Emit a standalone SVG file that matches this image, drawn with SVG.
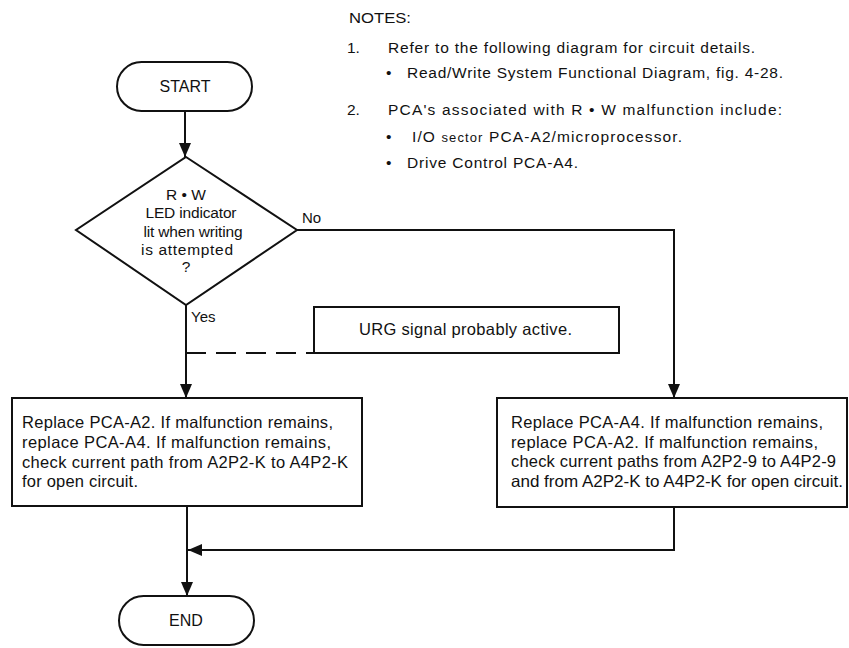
<svg xmlns="http://www.w3.org/2000/svg" width="849" height="648" viewBox="0 0 849 648">
<style>
  text { font-family: "Liberation Sans", Arial, sans-serif; fill: #111; }
  .box { fill: #fff; stroke: #111; stroke-width: 2; }
  .ln { fill: none; stroke: #111; stroke-width: 2; }
  .dash { fill: none; stroke: #111; stroke-width: 2; stroke-dasharray: 20 10; }
  .note { font-size: 15.5px; }
  .bt { font-size: 16.5px; }
  .dt { font-size: 15.5px; text-anchor: middle; }
  .term { font-size: 16px; text-anchor: middle; }
  .lbl { font-size: 15px; }
</style>
<defs>
  <marker id="arr" markerUnits="userSpaceOnUse" markerWidth="14" markerHeight="14" viewBox="0 0 14 14" refX="14" refY="7" orient="auto">
    <path d="M0,1 L14,7 L0,13 Z" fill="#111"/>
  </marker>
</defs>
<rect width="849" height="648" fill="#fff"/>

<g id="notes">
  <text class="note" x="349" y="23" textLength="62" lengthAdjust="spacingAndGlyphs">NOTES:</text>
  <text class="note" x="347" y="53">1.</text>
  <text class="note" x="388" y="53" textLength="367" lengthAdjust="spacing">Refer to the following diagram for circuit details.</text>
  <text class="note" x="386" y="78">•</text>
  <text class="note" x="407" y="78" textLength="376" lengthAdjust="spacing">Read/Write System Functional Diagram, fig. 4-28.</text>
  <text class="note" x="347" y="115">2.</text>
  <text class="note" x="388" y="115" textLength="394" lengthAdjust="spacing">PCA's associated with R • W malfunction include:</text>
  <text class="note" x="386" y="142">•</text>
  <text class="note" x="412" y="142" textLength="270" lengthAdjust="spacing">I/O <tspan font-size="13px">sector</tspan> PCA-A2/microprocessor.</text>
  <text class="note" x="386" y="168">•</text>
  <text class="note" x="407" y="168" textLength="171" lengthAdjust="spacing">Drive Control PCA-A4.</text>
</g>

<g id="start">
  <rect class="box" x="117" y="62" width="135" height="49" rx="24.5" ry="24.5"/>
  <text class="term" x="185" y="92">START</text>
</g>

<g id="decision">
  <polygon class="box" points="186,157 297,230 186,305 76,230"/>
  <text class="dt" x="186" y="200">R • W</text>
  <text class="dt" x="191" y="218" textLength="91" lengthAdjust="spacing">LED indicator</text>
  <text class="dt" x="193" y="237" textLength="99" lengthAdjust="spacing">lit when writing</text>
  <text class="dt" x="187" y="255" textLength="92" lengthAdjust="spacing">is attempted</text>
  <text class="dt" x="186" y="272">?</text>
</g>

<g id="urg">
  <rect class="box" x="314" y="307" width="305" height="46"/>
  <text class="bt" x="359" y="335" textLength="213" lengthAdjust="spacing">URG signal probably active.</text>
</g>

<g id="left-box">
  <rect class="box" x="12" y="398" width="350" height="108"/>
  <text class="bt" x="22" y="428" textLength="311" lengthAdjust="spacing">Replace PCA-A2. If malfunction remains,</text>
  <text class="bt" x="22" y="448" textLength="309" lengthAdjust="spacing">replace PCA-A4. If malfunction remains,</text>
  <text class="bt" x="22" y="468" textLength="326" lengthAdjust="spacing">check current path from A2P2-K to A4P2-K</text>
  <text class="bt" x="22" y="487" textLength="116" lengthAdjust="spacing">for open circuit.</text>
</g>

<g id="right-box">
  <rect class="box" x="497" y="398" width="350" height="109"/>
  <text class="bt" x="511" y="428" textLength="312" lengthAdjust="spacing">Replace PCA-A4. If malfunction remains,</text>
  <text class="bt" x="511" y="448" textLength="307" lengthAdjust="spacing">replace PCA-A2. If malfunction remains,</text>
  <text class="bt" x="511" y="467" textLength="325" lengthAdjust="spacing">check current paths from A2P2-9 to A4P2-9</text>
  <text class="bt" x="511" y="487" textLength="332" lengthAdjust="spacingAndGlyphs">and from A2P2-K to A4P2-K for open circuit.</text>
</g>

<g id="end">
  <rect class="box" x="119" y="596" width="135" height="49" rx="24.5" ry="24.5"/>
  <text class="term" x="186" y="626">END</text>
</g>

<g id="connectors">
  <line class="ln" x1="185" y1="111" x2="185" y2="157" marker-end="url(#arr)"/>
  <line class="ln" x1="186" y1="305" x2="186" y2="398" marker-end="url(#arr)"/>
  <line class="dash" x1="186" y1="353" x2="314" y2="353"/>
  <polyline class="ln" points="297,230 674,230 674,398" marker-end="url(#arr)"/>
  <line class="ln" x1="187" y1="506" x2="187" y2="596" marker-end="url(#arr)"/>
  <polyline class="ln" points="674,507 674,550 188,550" marker-end="url(#arr)"/>
  <text class="lbl" x="302" y="223">No</text>
  <text class="lbl" x="191" y="322">Yes</text>
</g>
</svg>
